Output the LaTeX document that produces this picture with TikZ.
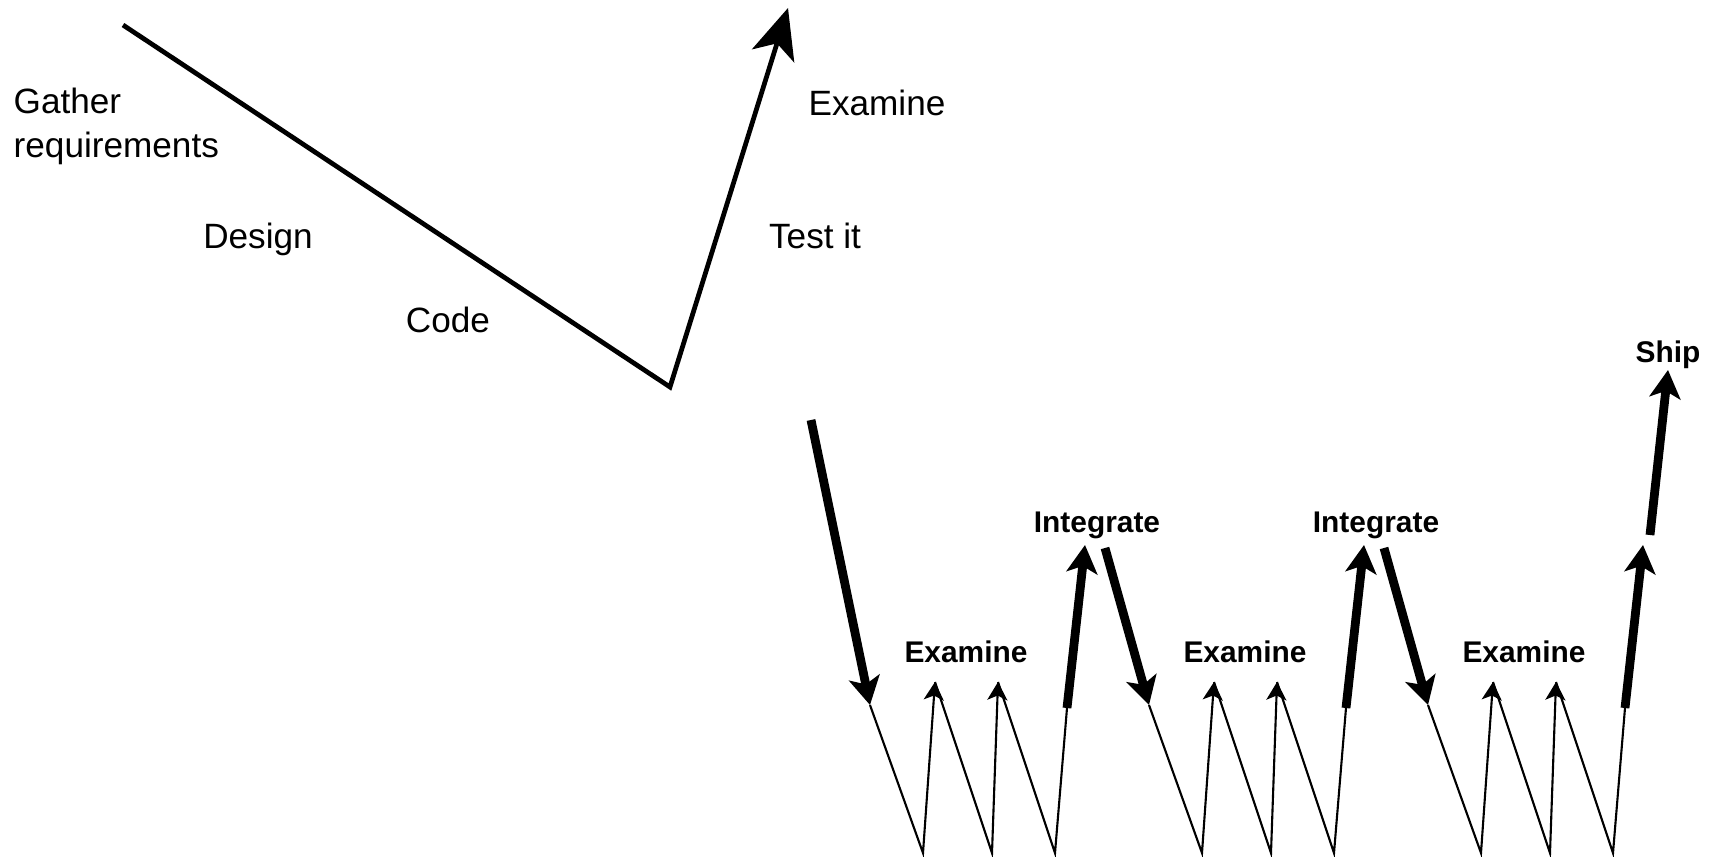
\documentclass[tikz,border=0pt]{standalone}
\usepackage{fontspec}
\setmainfont{Liberation Sans}
\usetikzlibrary{arrows.meta}

\begin{document}
\begin{tikzpicture}[x=0.01cm,y=-0.01cm,
    lbl/.style={font=\fontsize{10}{12.5}\selectfont,inner sep=0pt},
    blbl/.style={font=\fontsize{8.5}{10}\selectfont\bfseries,inner sep=0pt},
    vline/.style={line width=1.35pt},
    thinline/.style={line width=0.6pt},
    thickline/.style={line width=2.5pt},
    bighead/.style={-{Stealth[length=5mm,width=4.4mm,inset=1.3mm]}},
    midhead/.style={-{Stealth[length=2.8mm,width=3.1mm,inset=0.7mm]}},
    smallhead/.style={-{Stealth[length=1.8mm,width=2mm,inset=0.45mm]}}]
    % 区間の幅の定義
    \def\gap{279}

    \useasboundingbox (0,0) rectangle (1717,857);

    % 上のV字
    \coordinate (vstart) at (123,25);
    \coordinate (vbottom) at (670,387);
    \coordinate (vtip) at (788,8);
    \draw[vline,bighead] (vstart) -- (vbottom) -- (vtip);

    % 上のラベル
    \node[lbl,anchor=north west,align=left] (gather) at (13,87) {Gather\\requirements};
    \node[lbl,anchor=base] (design) at (258,248) {Design};
    \node[lbl,anchor=base] (code) at (448,332) {Code};
    \node[lbl,anchor=base] (testit) at (815,248) {Test it};
    \node[lbl,anchor=base] (examtop) at (877,115) {Examine};

    % 最初の下向き矢印
    \coordinate (dstart) at (811,420);
    \coordinate (dend) at (870,705);
    \draw[thickline,midhead] (dstart) -- (dend);

    % ジグザグ（3区間）
    \foreach \s in {0,1,2}{
      \begin{scope}[shift={(\s*\gap,0)}]
        \coordinate (top\s) at (870,705);
        \coordinate (bot1-\s) at (923,853);
        \coordinate (ex1-\s) at (935,682);
        \coordinate (bot2-\s) at (992,853);
        \coordinate (ex2-\s) at (998,682);
        \coordinate (bot3-\s) at (1055,853);
        \coordinate (up\s) at (1067,708);
        \coordinate (int\s) at (1085,545);
        \draw[thinline,smallhead] (top\s) -- (bot1-\s) -- (ex1-\s);
        \draw[thinline,smallhead] (ex1-\s) -- (bot2-\s) -- (ex2-\s);
        \draw[thinline] (ex2-\s) -- (bot3-\s) -- (up\s);
        \draw[thickline,midhead] (up\s) -- (int\s);
        \node[blbl,anchor=base] (exam\s) at (966,662) {Examine};
      \end{scope}
    }

    % Integrate と下向き矢印
    \foreach \s in {0,1}{
      \begin{scope}[shift={(\s*\gap,0)}]
        \node[blbl,anchor=base] (integ\s) at (1097,532) {Integrate};
        \coordinate (dn\s) at (1105,548);
        \coordinate (dtip\s) at (1149,705);
        \draw[thickline,midhead] (dn\s) -- (dtip\s);
      \end{scope}
    }

    % 最後の矢印
    \coordinate (shipfrom) at (1650,535);
    \coordinate (shipto) at (1668,370);
    \draw[thickline,midhead] (shipfrom) -- (shipto);
    \node[blbl,anchor=base] (ship) at (1668,362) {Ship};

  \end{tikzpicture}
\end{document}
